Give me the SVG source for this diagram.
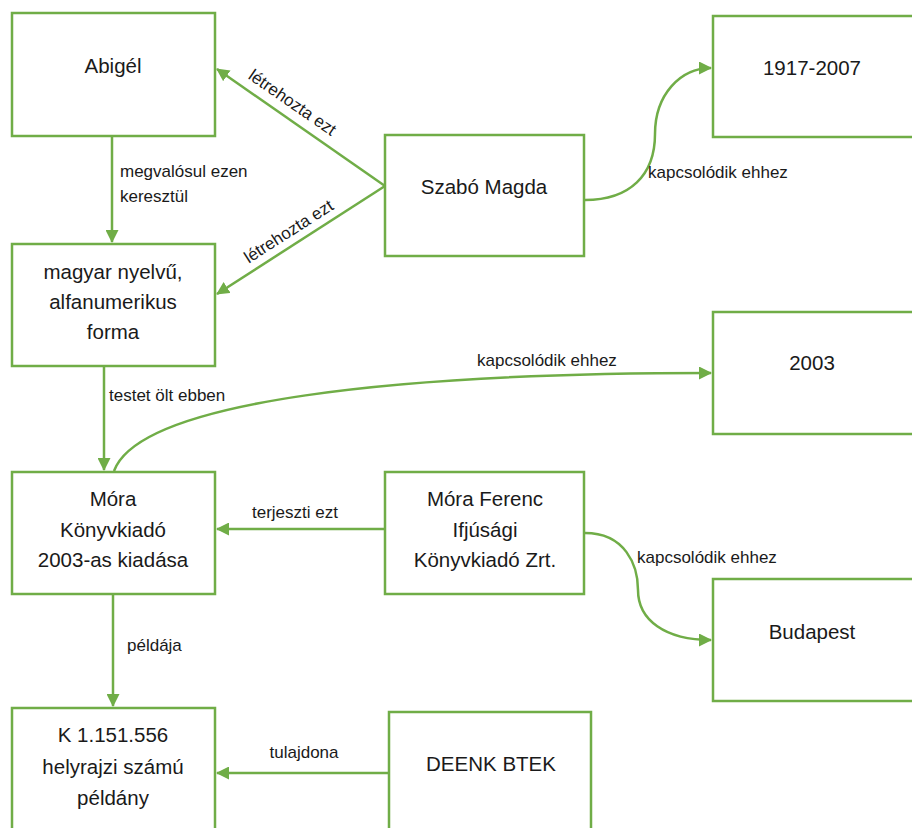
<svg xmlns="http://www.w3.org/2000/svg" width="912" height="828" viewBox="0 0 912 828">
<defs>
<style>
.box{fill:#ffffff;stroke:#70AD47;stroke-width:2.5}
.nt{font-family:"Liberation Sans",Arial,sans-serif;font-size:20.5px;fill:#1a1a1a;text-anchor:middle}
.lb{font-family:"Liberation Sans",Arial,sans-serif;font-size:17px;fill:#1a1a1a}
.ln{fill:none;stroke:#70AD47;stroke-width:2.5}
</style>
<marker id="ah" markerWidth="13" markerHeight="13" refX="12" refY="6.5" orient="auto" markerUnits="userSpaceOnUse" viewBox="0 0 13 13">
<path d="M0,0 L13,6.5 L0,13 z" fill="#70AD47"/>
</marker>
</defs>
<rect width="912" height="828" fill="#ffffff"/>

<g id="connectors">
<line class="ln" x1="385" y1="186" x2="217" y2="69" marker-end="url(#ah)"/>
<line class="ln" x1="385" y1="186" x2="217" y2="294" marker-end="url(#ah)"/>
<line class="ln" x1="112" y1="136" x2="112" y2="242" marker-end="url(#ah)"/>
<line class="ln" x1="104" y1="366" x2="104" y2="470" marker-end="url(#ah)"/>
<line class="ln" x1="113" y1="594" x2="113" y2="706" marker-end="url(#ah)"/>
<line class="ln" x1="385" y1="529" x2="217" y2="529" marker-end="url(#ah)"/>
<line class="ln" x1="389" y1="773" x2="217" y2="773" marker-end="url(#ah)"/>
<path class="ln" d="M114,471 C140,400 400,373 711,373" marker-end="url(#ah)"/>
<path class="ln" d="M585,200 C630,200 655,175 655,134 C655,95 680,68 711,68" marker-end="url(#ah)"/>
<path class="ln" d="M585,533 C625,533 638,565 638,590 C638,620 665,640 711,640" marker-end="url(#ah)"/>
<text class="lb" transform="translate(292,103) rotate(34.7)" x="0" y="5" text-anchor="middle">létrehozta ezt</text>
<text class="lb" transform="translate(289,232) rotate(-32.6)" x="0" y="5" text-anchor="middle">létrehozta ezt</text>
<text class="lb" x="120" y="177">megvalósul ezen</text>
<text class="lb" x="120" y="202">keresztül</text>
<text class="lb" x="109" y="401">testet ölt ebben</text>
<text class="lb" x="252" y="518">terjeszti ezt</text>
<text class="lb" x="477" y="366">kapcsolódik ehhez</text>
<text class="lb" x="648" y="178">kapcsolódik ehhez</text>
<text class="lb" x="637" y="563">kapcsolódik ehhez</text>
<text class="lb" x="127" y="651">példája</text>
<text class="lb" x="304" y="758" text-anchor="middle">tulajdona</text>
</g>

<g id="abigel"><rect class="box" x="12" y="13" width="203" height="123"/><text class="nt" x="113" y="73">Abigél</text></g>
<g id="magyar"><rect class="box" x="12" y="244" width="203" height="122"/>
<text class="nt" x="113" y="279">magyar nyelvű,</text><text class="nt" x="113" y="309">alfanumerikus</text><text class="nt" x="113" y="339">forma</text></g>
<g id="szabo"><rect class="box" x="385" y="135" width="199" height="121"/><text class="nt" x="484" y="194">Szabó Magda</text></g>
<g id="evek"><rect class="box" x="713" y="16" width="210" height="121"/><text class="nt" x="812" y="75">1917-2007</text></g>
<g id="ev2003"><rect class="box" x="713" y="312" width="210" height="122"/><text class="nt" x="812" y="370">2003</text></g>
<g id="mora"><rect class="box" x="12" y="472" width="203" height="122"/>
<text class="nt" x="113" y="506">Móra</text><text class="nt" x="113" y="537">Könyvkiadó</text><text class="nt" x="113" y="567">2003-as kiadása</text></g>
<g id="moraferenc"><rect class="box" x="385" y="472" width="199" height="122"/>
<text class="nt" x="485" y="506">Móra Ferenc</text><text class="nt" x="485" y="537">Ifjúsági</text><text class="nt" x="485" y="567">Könyvkiadó Zrt.</text></g>
<g id="budapest"><rect class="box" x="713" y="579" width="210" height="122"/><text class="nt" x="812" y="639">Budapest</text></g>
<g id="peldany"><rect class="box" x="12" y="708" width="203" height="130"/>
<text class="nt" x="113" y="742">K 1.151.556</text><text class="nt" x="113" y="774">helyrajzi számú</text><text class="nt" x="113" y="805">példány</text></g>
<g id="deenk"><rect class="box" x="389" y="712" width="202" height="130"/><text class="nt" x="491" y="771">DEENK BTEK</text></g>
</svg>
